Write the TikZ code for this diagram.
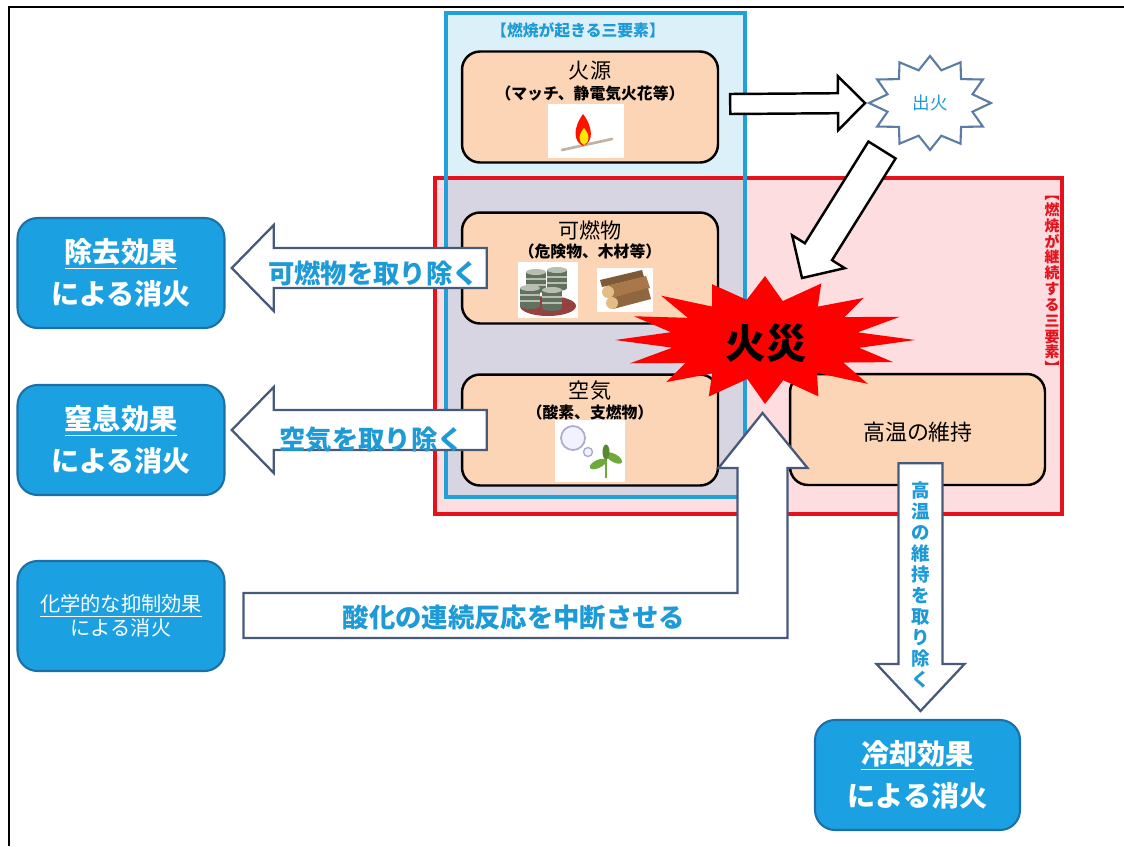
\documentclass[tikz,border=0pt]{standalone}
\usepackage{fontspec}
\setmainfont{Noto Sans CJK JP}
\usetikzlibrary{calc}
\definecolor{effblue}{HTML}{1BA1E2}
\definecolor{effline}{HTML}{1D6FA5}
\definecolor{txtblue}{HTML}{1E9AD6}
\definecolor{arrline}{HTML}{475A7A}
\definecolor{peach}{HTML}{FBD5B5}
\definecolor{skyfill}{HTML}{DCF0FA}
\definecolor{skyline}{HTML}{22A0DA}
\definecolor{pinkfill}{HTML}{FDDDE0}
\definecolor{lavfill}{HTML}{D8D5E2}
\definecolor{redline}{HTML}{E5121C}
\definecolor{starline}{HTML}{5C7CA6}
\definecolor{drumgreen}{HTML}{62705E}
\definecolor{drumtop}{HTML}{B7BEB2}
\definecolor{logbrown}{HTML}{A8784A}
\definecolor{logend}{HTML}{E2BE86}
\definecolor{leafgreen}{HTML}{6DAA3A}
% block arrow: [style]{tail}{tip}{shaft half}{head half}{head length}
\newcommand{\blockarrow}[6][]{%
  \coordinate (ba base) at ($(#3)!#6!(#2)$);
  \draw[#1] ($(#2)!#4!90:(#3)$) -- ($(ba base)!#4!90:(#3)$) -- ($(ba base)!#5!90:(#3)$)
    -- (#3) -- ($(ba base)!#5!-90:(#3)$) -- ($(ba base)!#4!-90:(#3)$) -- ($(#2)!#4!-90:(#3)$) -- cycle;}
\begin{document}
\begin{tikzpicture}[x=0.02cm,y=-0.02cm,
  elem node/.style={rectangle,rounded corners=0.36cm,draw=black,line width=1.4pt,fill=peach,minimum width=5.12cm,minimum height=2.22cm},
  effect node/.style={rectangle,rounded corners=0.4cm,draw=effline,line width=1.2pt,fill=effblue,text=white,minimum width=4.14cm,minimum height=2.2cm,align=center,font=\bfseries\fontsize{16}{24}\selectfont},
  arrow body/.style={draw=arrline,line width=1.3pt,fill=white,line join=miter},
  arrow text/.style={text=txtblue,font=\bfseries\fontsize{15}{18}\selectfont},
  sub text/.style={font=\bfseries\fontsize{9}{10}\selectfont}]
\useasboundingbox (0,0) rectangle (1124,846);
\fill[white] (0,0) rectangle (1124,846);
\draw[line width=1.7pt] (9,846) -- (9,7) -- (1124,7);
% the two groups of three elements
\fill[pinkfill] (435,178) rectangle (1062,514);
\fill[skyfill] (446,13) rectangle (745,178);
\fill[lavfill] (446,178) rectangle (745,497);
\draw[redline,line width=2pt] (435,178) rectangle (1062,514);
\draw[skyline,line width=2pt] (446,13) rectangle (745,497);
\node[text=txtblue,font=\bfseries\fontsize{9}{10}\selectfont] (start title) at (578,30) {【燃焼が起きる三要素】};
\node[text=redline,align=center,font=\bfseries\fontsize{8.5}{9}\selectfont] (keep title) at (1052,285) {︻\\燃\\焼\\が\\継\\続\\す\\る\\三\\要\\素\\︼};
% elements
\node[elem node] (hiyuan) at (590,107) {};
\node[font=\fontsize{12}{13}\selectfont] (hiyuan title) at (590,71) {火源};
\node[sub text] (hiyuan sub) at (590,94) {（マッチ、静電気火花等）};
\node[elem node] (kanen) at (590,268) {};
\node[font=\fontsize{12}{13}\selectfont] (kanen title) at (590,230) {可燃物};
\node[sub text] (kanen sub) at (590,251) {（危険物、木材等）};
\node[elem node] (kuki) at (590,430) {};
\node[font=\fontsize{12}{13}\selectfont] (kuki title) at (590,391) {空気};
\node[sub text] (kuki sub) at (590,412) {（酸素、支燃物）};
\node[elem node,minimum width=5.1cm] (koon) at (917.5,429.5) {};
\node[font=\fontsize{12.5}{14}\selectfont] (koon title) at (918,432) {高温の維持};
% little pictures
\fill[white] (548,104) rectangle (624,158);
\draw[line width=1.5pt,color=brown!40!gray!60,line cap=round] (562,150) -- (612,139);
\fill[red!85!orange] (583,114) .. controls (573,128) and (573,141) .. (583,146) .. controls (594,142) and (593,127) .. (583,114);
\fill[yellow!90!orange] (584,128) .. controls (578,135) and (578,142) .. (584,145) .. controls (590,142) and (590,135) .. (584,128);
\fill[white] (518,262) rectangle (578,318);
\fill[red!45!black!75] (548,306) ellipse (0.56cm and 0.2cm);
\foreach \cx/\cy in {536/272,557/270,530/288,552/290} {
  \fill[drumgreen] (\cx-10,\cy) rectangle (\cx+10,\cy+18);
  \fill[drumgreen] (\cx,\cy+18) ellipse (0.2cm and 0.06cm);
  \draw[drumtop,line width=0.6pt] (\cx-10,\cy+7) -- (\cx+10,\cy+7) (\cx-10,\cy+13) -- (\cx+10,\cy+13);
  \fill[drumtop] (\cx,\cy) ellipse (0.2cm and 0.06cm);
}
\fill[white] (597,268) rectangle (653,312);
\fill[logbrown!75!black] (600,280) -- (642,270) -- (644,277) -- (602,287) -- cycle;
\fill[logbrown] (606,286) -- (646,276) -- (650,288) -- (610,298) -- cycle;
\fill[logbrown!85!black] (610,298) -- (648,288) -- (651,299) -- (613,309) -- cycle;
\fill[logend] (608,292) circle (0.12cm);
\fill[logend] (612,303) circle (0.12cm);
\fill[white] (555,420) rectangle (625,482);
\draw[blue!30!gray!50,line width=1pt,fill=blue!5] (573,438) circle (0.24cm);
\draw[blue!30!gray!50,line width=0.8pt,fill=blue!5] (588,452) circle (0.09cm);
\draw[leafgreen,line width=1pt] (606,478) -- (606,456);
\fill[leafgreen,rotate around={25:(598,464)}] (598,464) ellipse (0.18cm and 0.08cm);
\fill[leafgreen,rotate around={-30:(614,458)}] (614,458) ellipse (0.18cm and 0.08cm);
\fill[leafgreen!80!black] (606,452) ellipse (0.07cm and 0.15cm);
% effects
\node[effect node] (jokyo) at (121,273) {\underline{除去効果}\\による消火};
\node[effect node] (chissoku) at (121,440) {\underline{窒息効果}\\による消火};
\node[effect node,font=\fontsize{11.5}{12.5}\selectfont] (kagaku) at (121,616) {\underline{化学的な抑制効果}\\による消火};
\node[effect node,minimum width=4.1cm] (reikyaku) at (917.5,775) {\underline{冷却効果}\\による消火};
% arrows
\coordinate (shukka) at (930,103);
\coordinate (kasai) at (765,340);
\coordinate (hiyuan tail) at ($(hiyuan.east)+(11,-3)$);
\coordinate (shukka tip) at ($(shukka)+(-65,0)$);
\blockarrow[arrow body,draw=black,line width=1.4pt]{hiyuan tail}{shukka tip}{0.2cm}{0.54cm}{0.54cm}
\coordinate (shukka tail) at ($(shukka)+(-48,47)$);
\coordinate (kasai tip) at ($(kasai)+(37,-62)$);
\blockarrow[arrow body,draw=black,line width=1.4pt]{shukka tail}{kasai tip}{0.32cm}{0.62cm}{0.62cm}
\coordinate (kanen tail) at ($(kanen.west)+(26,0)$);
\draw[arrow body] ($(kanen tail)+(0,-20)$) -- ++(-213,0) -- ++(0,-23) -- ++(-42,43) -- ++(42,43) -- ++(0,-23) -- ++(213,0) -- cycle;
\node[arrow text] (kanen text) at ($(jokyo.east)+(148,0)$) {可燃物を取り除く};
\coordinate (kuki tail) at ($(kuki.west)+(26,0)$);
\draw[arrow body] ($(kuki tail)+(0,-20)$) -- ++(-213,0) -- ++(0,-23) -- ++(-42,43) -- ++(42,43) -- ++(0,-23) -- ++(213,0) -- cycle;
\node[arrow text] (kuki text) at ($(chissoku.east)+(146,0)$) {空気を取り除く};
\coordinate (koon tail) at ($(koon.south)+(3,-23)$);
\coordinate (reikyaku tip) at ($(reikyaku.north)+(3,-8)$);
\blockarrow[arrow body]{koon tail}{reikyaku tip}{0.44cm}{0.88cm}{0.94cm}
\node[text=txtblue,align=center,font=\bfseries\fontsize{10.5}{12}\selectfont] (koon text) at (921,585) {高\\温\\の\\維\\持\\を\\取\\り\\除\\く};
\coordinate (kagaku tail) at ($(kagaku.east)+(18,0)$);
\draw[arrow body] ($(kagaku tail)+(0,-23)$) -- ++(494,0) -- ++(0,-125) -- ++(-19,0) -- ++(44,-55) -- ++(45,55) -- ++(-20,0) -- ++(0,170) -- ++(-544,0) -- cycle;
\node[arrow text] (kagaku text) at (514,617) {酸化の連続反応を中断させる};
% stars
\begin{scope}[shift={(shukka)},x=1.22cm,y=-0.94cm]
\draw[starline,line width=1.2pt,fill=white] (0:1) \foreach \a in {15,45,...,345} { -- (\a:0.72) -- ({\a+15}:1) } -- cycle;
\end{scope}
\node[text=txtblue,font=\fontsize{10}{11}\selectfont] (shukka text) at (shukka) {出火};
\begin{scope}[shift={(kasai)},x=3cm,y=-1.28cm]
\fill[red] (0:1) \foreach \a/\r in {11/0.64,22/0.92,34/0.63,45/0.97,56/0.62,68/0.95,79/0.64,90/1,101/0.62,113/0.96,124/0.63,135/0.93,146/0.64,158/0.97,169/0.63,180/1,191/0.64,203/0.95,214/0.62,225/0.98,236/0.63,248/0.94,259/0.64,270/1,281/0.62,293/0.96,304/0.63,315/0.93,326/0.64,338/0.97,349/0.63} { -- (\a:\r) } -- cycle;
\end{scope}
\node[font=\bfseries\fontsize{23}{26}\selectfont] (kasai text) at ($(kasai)+(1,3)$) {火災};
\end{tikzpicture}
\end{document}
